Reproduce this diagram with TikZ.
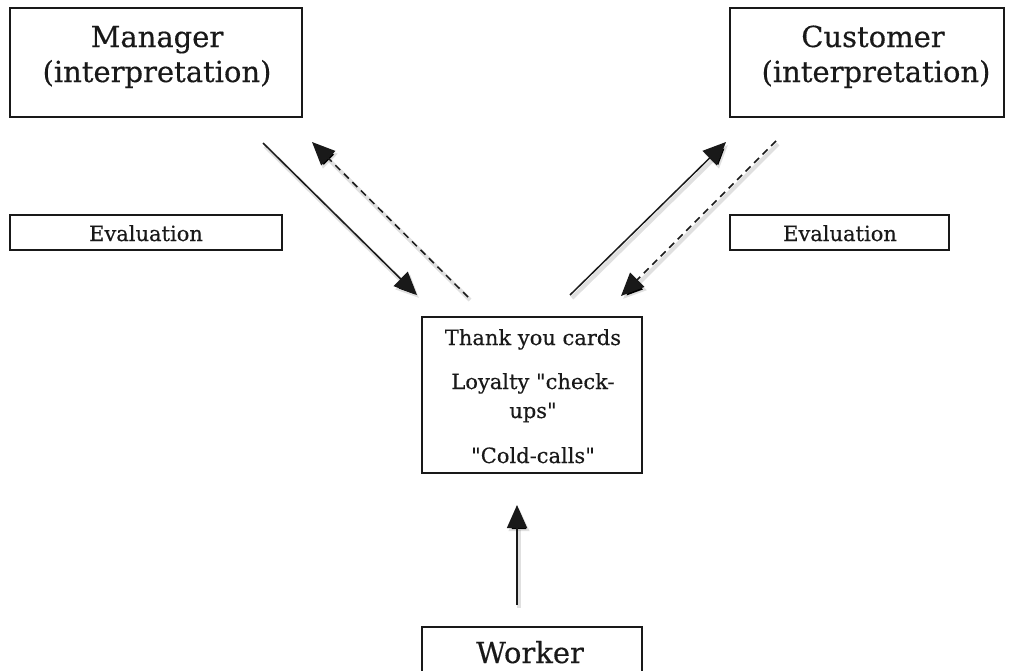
\documentclass[tikz,border=0pt]{standalone}
\usepackage{fontspec}
\setmainfont{DejaVu Serif}[FakeBold=0.4]
\usetikzlibrary{arrows.meta}
\newcommand{\dq}{\textquotedbl}
\begin{document}
\begin{tikzpicture}[x=1pt,y=-1pt,
  box/.style={draw=black!90, line width=2pt, inner sep=0pt, outer sep=0pt},
  big/.style={font=\fontsize{29}{35}\selectfont, anchor=base, inner sep=0pt, text=black!90},
  small/.style={font=\fontsize{21}{25}\selectfont, anchor=base, inner sep=0pt, text=black!90},
  shade/.style={preaction={draw=black, draw opacity=0.12, line width=4pt,
      transform canvas={shift={(2pt,-3pt)}}}},
  link/.style={shade, draw=black!90, line width=1.5pt,
      -{Triangle[length=23pt,width=20pt]}},
  backlink/.style={link, dash pattern=on 7pt off 5pt}]
\useasboundingbox (0,0) rectangle (1014,670);
\clip (0,0) rectangle (1014,670);

% boxes
\node[box, minimum width=292pt, minimum height=109pt] (manager) at (156,62.5) {};
\node[box, minimum width=274pt, minimum height=109pt] (customer) at (867,62.5) {};
\node[box, minimum width=272pt, minimum height=35pt] (evalL) at (146,232.5) {};
\node[box, minimum width=219pt, minimum height=35pt] (evalR) at (839.5,232.5) {};
\node[box, minimum width=220pt, minimum height=156pt] (tasks) at (532,395) {};
\node[box, minimum width=220pt, minimum height=73pt] (worker) at (532,663.5) {};

% texts
\node[big] (managerA) at (157,47) {Manager};
\node[big] (managerB) at (157,82) {(interpretation)};
\node[big] (customerA) at (873,47) {Customer};
\node[big] (customerB) at (876,82) {(interpretation)};
\node[small] (evalLt) at (146,241) {Evaluation};
\node[small] (evalRt) at (840,241) {Evaluation};
\node[small] (taskA) at (533,345) {Thank you cards};
\node[small] (taskB) at (533,389) {Loyalty \dq check-};
\node[small] (taskC) at (533,418) {ups\dq};
\node[small] (taskD) at (533,463) {\dq Cold-calls\dq};
\node[big] (workerT) at (530,663) {Worker};

% connector ends
\coordinate (m1) at (263,143);
\coordinate (m2) at (417,295);
\coordinate (m3) at (468,297);
\coordinate (m4) at (312,142);
\coordinate (c1) at (570,295);
\coordinate (c2) at (726,142);
\coordinate (c3) at (776,141);
\coordinate (c4) at (621,296);
\coordinate (w1) at (517,605);
\coordinate (w2) at (517,505);

% connectors
\draw[link] (m1) -- (m2);
\draw[backlink] (m3) -- (m4);
\draw[link] (c1) -- (c2);
\draw[backlink] (c3) -- (c4);
\draw[link] (w1) -- (w2);
\end{tikzpicture}
\end{document}
